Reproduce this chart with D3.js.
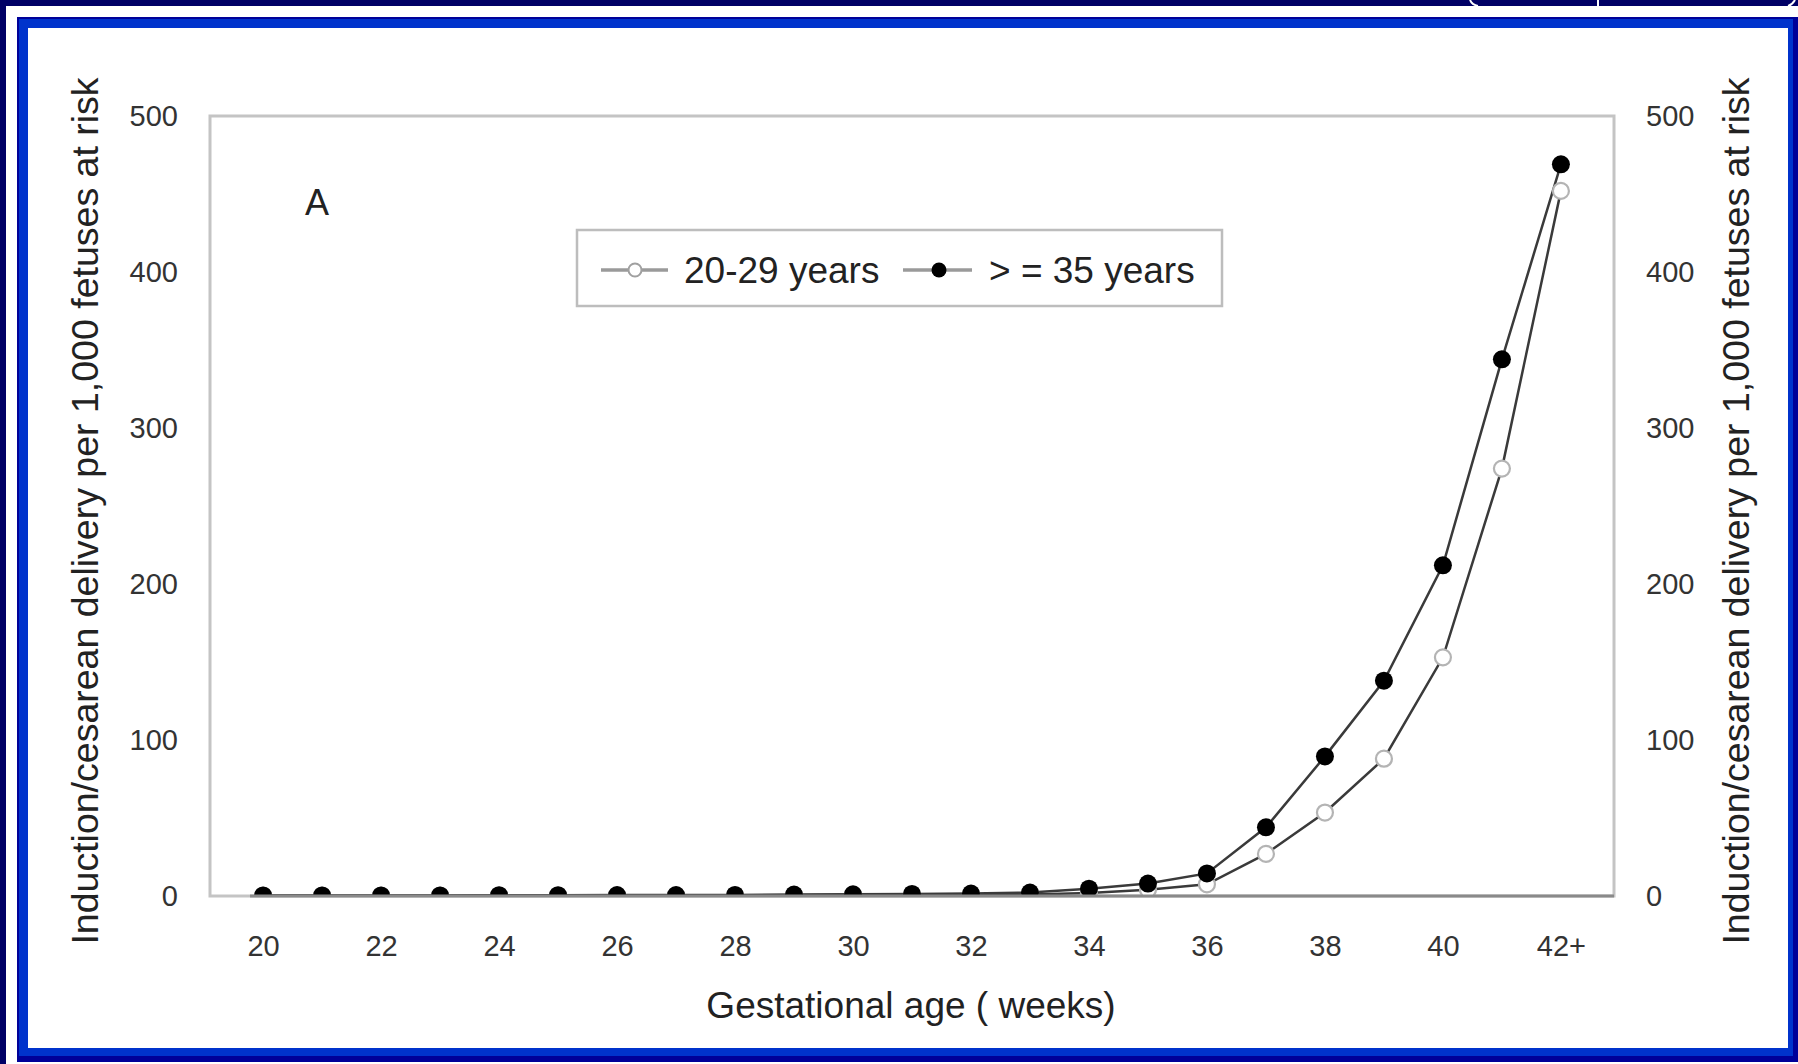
<!DOCTYPE html>
<html>
<head>
<meta charset="utf-8">
<script src="https://cdn.jsdelivr.net/npm/d3@7"></script>
<style>
  html, body { margin: 0; padding: 0; background: #000066; }
  svg { display: block; }
  text { font-family: "Liberation Sans", Arial, sans-serif; }
</style>
</head>
<body>
<svg id="chart" width="1798" height="1064"></svg>
<script>
// ---- data ----
const weeks = ["20","21","22","23","24","25","26","27","28","29","30","31","32","33","34","35","36","37","38","39","40","41","42+"];
const tickLabels = ["20","22","24","26","28","30","32","34","36","38","40","42+"];
const yTicks = [0, 100, 200, 300, 400, 500];
const seriesNames = ["20-29 years", "> = 35 years"];
const young = [0.2,0.2,0.2,0.2,0.3,0.3,0.3,0.3,0.4,0.5,0.6,0.7,0.8,1.0,2.0,4.0,7.5,27,53.5,88,153,274,452];
const older = [0.4,0.4,0.4,0.4,0.5,0.5,0.6,0.6,0.7,0.9,1.1,1.3,1.6,2.2,4.7,8,14.5,44,89.5,138,212,344,469];

// ---- layout ----
const svg = d3.select("#chart");
const W = 1798, H = 1064;
const plot = { left: 210, right: 1614, top: 116, bottom: 896 };

// page frame
svg.append("rect").attr("x", 0).attr("y", 0).attr("width", W).attr("height", H).attr("fill", "#000066");
svg.append("rect").attr("x", 6).attr("y", 6).attr("width", W - 6).attr("height", H - 6).attr("fill", "#ffffff");
svg.append("rect").attr("x", 17).attr("y", 17).attr("width", W - 17).attr("height", 1045).attr("fill", "#000099");
svg.append("rect").attr("x", 19).attr("y", 19).attr("width", 1774).attr("height", 1037).attr("fill", "#0033cc");
svg.append("rect").attr("x", 28).attr("y", 28).attr("width", 1760).attr("height", 1020).attr("fill", "#ffffff");
// little tab outlines at top
const tabs = svg.append("g").attr("fill", "none").attr("stroke", "#ffffff").attr("stroke-width", 2);
tabs.append("path").attr("d", "M1470,0 Q1472,5 1478,6");
tabs.append("path").attr("d", "M1598,0 L1598,6");
tabs.append("path").attr("d", "M1795,0 Q1792,5 1788,6");

// scales
const x = d3.scalePoint().domain(weeks).range([plot.left, plot.right]).padding(0.9);
const y = d3.scaleLinear().domain([0, 500]).range([plot.bottom, plot.top]);

// clip
svg.append("defs").append("clipPath").attr("id", "clip")
  .append("rect").attr("x", plot.left).attr("y", plot.top - 20)
  .attr("width", plot.right - plot.left).attr("height", plot.bottom - plot.top + 20);

// plot frame
svg.append("rect").attr("x", plot.left).attr("y", plot.top)
  .attr("width", plot.right - plot.left).attr("height", plot.bottom - plot.top)
  .attr("fill", "none").attr("stroke", "#c4c4c4").attr("stroke-width", 3);

// data
const data = g => weeks.map((w, i) => ({ w, v: g[i] }));
const line = d3.line().x(d => x(d.w)).y(d => y(d.v));
const dataG = svg.append("g").attr("clip-path", "url(#clip)");

dataG.append("path").datum(data(young)).attr("d", line)
  .attr("fill", "none").attr("stroke", "#3a3a3a").attr("stroke-width", 2.5);
dataG.append("path").datum(data(older)).attr("d", line)
  .attr("fill", "none").attr("stroke", "#3a3a3a").attr("stroke-width", 2.5);

dataG.selectAll("circle.young").data(data(young)).join("circle").attr("class", "young")
  .attr("cx", d => x(d.w)).attr("cy", d => y(d.v)).attr("r", 8)
  .attr("fill", "#ffffff").attr("stroke", "#b4b4b4").attr("stroke-width", 2.2);
dataG.selectAll("circle.older").data(data(older)).join("circle").attr("class", "older")
  .attr("cx", d => x(d.w)).attr("cy", d => y(d.v)).attr("r", 9)
  .attr("fill", "#000000");

// bottom axis line (darker)
svg.append("line").attr("x1", plot.left + 40).attr("x2", plot.right)
  .attr("y1", plot.bottom).attr("y2", plot.bottom)
  .attr("stroke", "#8a8a8a").attr("stroke-width", 3);

// axes
const xAxis = svg.append("g").attr("transform", `translate(0,${plot.bottom})`)
  .call(d3.axisBottom(x).tickValues(tickLabels).tickSize(0).tickPadding(39));
xAxis.select(".domain").remove();
xAxis.selectAll("text").attr("font-size", 29).attr("fill", "#333")
  .attr("font-family", "'Liberation Sans', Arial, sans-serif");

const yAxisL = svg.append("g").attr("transform", `translate(${plot.left},0)`)
  .call(d3.axisLeft(y).tickValues(yTicks).tickSize(0).tickPadding(32));
yAxisL.select(".domain").remove();
yAxisL.selectAll("text").attr("font-size", 29).attr("fill", "#333")
  .attr("font-family", "'Liberation Sans', Arial, sans-serif");

const yAxisR = svg.append("g").attr("transform", `translate(${plot.right},0)`)
  .call(d3.axisRight(y).tickValues(yTicks).tickSize(0).tickPadding(32));
yAxisR.select(".domain").remove();
yAxisR.selectAll("text").attr("font-size", 29).attr("fill", "#333")
  .attr("font-family", "'Liberation Sans', Arial, sans-serif");

// axis titles
const yTitle = "Induction/cesarean delivery per 1,000 fetuses at risk";
svg.append("text").attr("transform", "translate(98,511) rotate(-90)")
  .attr("text-anchor", "middle").attr("font-size", 37.5).attr("fill", "#222").text(yTitle);
svg.append("text").attr("transform", "translate(1749,511) rotate(-90)")
  .attr("text-anchor", "middle").attr("font-size", 37.5).attr("fill", "#222").text(yTitle);
svg.append("text").attr("x", 911).attr("y", 1018)
  .attr("text-anchor", "middle").attr("font-size", 37).attr("fill", "#222").text("Gestational age ( weeks)");

// panel label
svg.append("text").attr("x", 317).attr("y", 215).attr("text-anchor", "middle")
  .attr("font-size", 36).attr("fill", "#222").text("A");

// legend
const lg = svg.append("g");
lg.append("rect").attr("x", 577).attr("y", 230).attr("width", 645).attr("height", 76)
  .attr("fill", "#ffffff").attr("stroke", "#bdbdbd").attr("stroke-width", 2.5);
lg.append("line").attr("x1", 601).attr("x2", 668).attr("y1", 270).attr("y2", 270)
  .attr("stroke", "#9a9a9a").attr("stroke-width", 3.5);
lg.append("circle").attr("cx", 635).attr("cy", 270).attr("r", 6.5)
  .attr("fill", "#fff").attr("stroke", "#a0a0a0").attr("stroke-width", 2);
lg.append("text").attr("x", 684).attr("y", 283).attr("font-size", 37).attr("fill", "#222").text(seriesNames[0]);
lg.append("line").attr("x1", 903).attr("x2", 972).attr("y1", 270).attr("y2", 270)
  .attr("stroke", "#9a9a9a").attr("stroke-width", 3.5);
lg.append("circle").attr("cx", 939).attr("cy", 270).attr("r", 7.5).attr("fill", "#000");
lg.append("text").attr("x", 989).attr("y", 283).attr("font-size", 37).attr("fill", "#222").text(seriesNames[1]);
</script>
</body>
</html>
